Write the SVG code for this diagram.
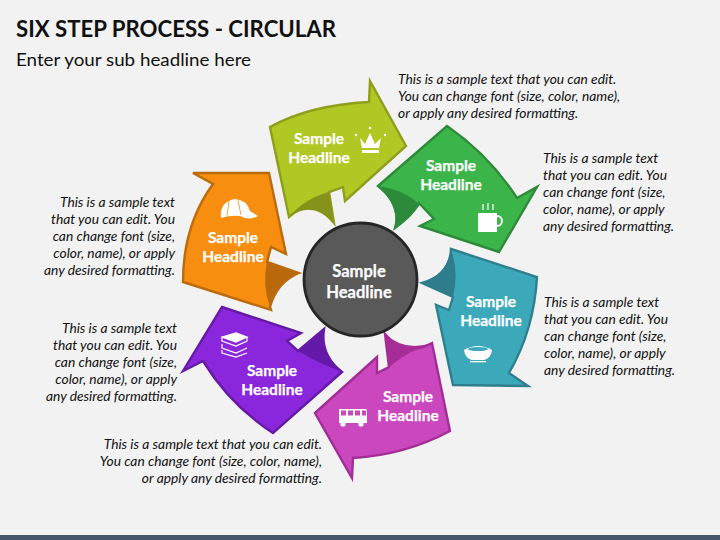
<svg xmlns="http://www.w3.org/2000/svg" width="720" height="540" viewBox="0 0 720 540">
<style>
.hd{font-family:Lato,"Open Sans",sans-serif;font-weight:700;font-size:15.5px;fill:#fff;stroke:#fff;stroke-width:.25px;text-anchor:middle}
.bd{font-family:Lato,"Open Sans",sans-serif;font-style:italic;font-size:13.8px;fill:#111}
.e{text-anchor:end}
.ic{fill:#fff;stroke:none}
.arrow{stroke-width:2.4;stroke-linejoin:miter}
</style>
<rect width="720" height="540" fill="#f2f2f2"/>
<rect y="535" width="720" height="5" fill="#44546a"/>
<text x="16" y="37" font-family="Lato,'Open Sans',sans-serif" font-weight="700" font-size="23.5" fill="#111" textLength="320" lengthAdjust="spacingAndGlyphs">SIX STEP PROCESS - CIRCULAR</text>
<text x="16" y="66" font-family="Lato,'Open Sans',sans-serif" font-size="18" fill="#111" textLength="235" lengthAdjust="spacingAndGlyphs">Enter your sub headline here</text>

<g id="connectors"/>

<g id="node-lime">
<path class="arrow" fill="#b0c823" stroke="#8f9e1c" d="M270 127Q310 105 369 102L370 81L406 146L345 201L343 187L329 192L334 223Q312 196 289 217Z"/>
<path fill="#86931b" d="M289 217Q305 198 329 192L334 223Q312 200 289 217Z"/>
<text class="hd" x="319" y="144">Sample</text><text class="hd" x="319" y="163">Headline</text>
<g class="ic"><path d="M360 138L365 144L370 133L375 144L381 138L379 148L362 148Z"/><rect x="362" y="150" width="17" height="3"/><circle cx="370" cy="128" r="1.300"/><circle cx="356" cy="135" r="1.200"/><circle cx="385" cy="135" r="1.200"/></g>
</g>

<g id="node-green">
<path class="arrow" fill="#3bb54a" stroke="#2d8a3a" d="M378 186L447 126Q489 155 517 198L537 187L499 252L420 226L434 219L419 203Q413 215 395 228Q402 205 378 186Z"/>
<path fill="#2c8a3a" d="M378 186Q405 190 420 205Q407 218 395 228Q399 205 378 186Z"/>
<text class="hd" x="451" y="171">Sample</text><text class="hd" x="451" y="190">Headline</text>
<g class="ic"><rect x="478" y="213" width="19" height="19"/><circle cx="497" cy="221" r="5" style="fill:none;stroke:#fff;stroke-width:2"/><path d="M483 204v6M488 203v7M493 204v6" style="fill:none;stroke:#fff;stroke-width:1.200"/></g>
</g>

<g id="node-teal">
<path class="arrow" fill="#3ba9ba" stroke="#2f7f8e" d="M451 249L537 277Q534 330 509 373L528 386L453 385L436 305L449 310L453 297L422 283Q450 275 451 249Z"/>
<path fill="#2e7c8c" d="M451 249Q459 272 453 297L422 283Q447 275 451 249Z"/>
<text class="hd" x="491" y="307">Sample</text><text class="hd" x="491" y="326">Headline</text>
<g class="ic"><path d="M464 350Q478 342 492 350Q491 358 484 360H472Q465 358 464 350Z"/><ellipse cx="478" cy="349" rx="10" ry="2" style="fill:#3ba9ba"/><rect x="470" y="361" width="16" height="1.300"/></g>
</g>

<g id="node-magenta">
<path class="arrow" fill="#cb47bd" stroke="#a22d96" d="M315 413L377 357L377 373L389 367L385 334Q405 358 432 343L450 431Q405 455 353 458L352 478Z"/>
<path fill="#a62c97" d="M385 334Q405 352 432 343Q410 350 389 367Z"/>
<text class="hd" x="408" y="402">Sample</text><text class="hd" x="408" y="421">Headline</text>
<g class="ic"><path d="M339 409H366Q367 409 367 412V423H339Z"/><g style="fill:#cb47bd"><rect x="341" y="410.500" width="5" height="5"/><rect x="348" y="410.500" width="5" height="5"/><rect x="355" y="410.500" width="5" height="5"/><rect x="362" y="410.500" width="4" height="5"/></g><circle cx="343" cy="424" r="2.600"/><circle cx="361" cy="424" r="2.600"/></g>
</g>

<g id="node-purple">
<path class="arrow" fill="#8a27dc" stroke="#651aa6" d="M222 307L301 333L287 341L298 351L324 329Q320 355 342 372L273 433Q230 405 203 361L183 371Z"/>
<path fill="#6519a8" d="M298 351L324 329Q321 355 342 372Q316 362 298 351Z"/>
<text class="hd" x="272" y="376">Sample</text><text class="hd" x="272" y="395">Headline</text>
<g style="fill:none;stroke:#fff;stroke-width:1.200"><path d="M222 337V341L236 346L247 341V337M222 344V348L236 353L247 348M222 350V353L236 357L247 353"/><path style="fill:#fff" d="M222 337L236 333L247 337L236 342Z"/></g>
</g>

<g id="node-orange">
<path class="arrow" fill="#f78e10" stroke="#b96b0d" d="M193 173L269 173L286 254L271 247L267 262L299 273Q277 282 270 307L271 310L183 282Q183 225 213 184Z"/>
<path fill="#b9690b" d="M267 262L299 273Q277 282 270 307Q262 285 267 262Z"/>
<text class="hd" x="233" y="243">Sample</text><text class="hd" x="233" y="262">Headline</text>
<g class="ic"><path d="M221 218Q219 202 235 199Q247 200 250 211L258 216Q250 221 240 216Q230 215 221 218Z"/><path d="M229 201L227 216M238 200L241 215" style="fill:none;stroke:#f78e10;stroke-width:.8"/></g>
</g>

<g id="node-center">
<circle cx="360.500" cy="279.500" r="56.500" fill="#595959" stroke="#262626" stroke-width="2.800"/>
<text class="hd" x="359" y="277" style="font-size:16.500px">Sample</text><text class="hd" x="359" y="298" style="font-size:16.500px">Headline</text>
</g>

<g id="text-lime"><text class="bd" x="398" y="84">This is a sample text that you can edit.</text><text class="bd" x="398" y="101">You can change font (size, color, name),</text><text class="bd" x="398" y="118">or apply any desired formatting.</text></g>
<g id="text-green"><text class="bd" x="543" y="163">This is a sample text</text><text class="bd" x="543" y="180">that you can edit. You</text><text class="bd" x="543" y="197">can change font (size,</text><text class="bd" x="543" y="214">color, name), or apply</text><text class="bd" x="543" y="231">any desired formatting.</text></g>
<g id="text-teal"><text class="bd" x="544" y="307">This is a sample text</text><text class="bd" x="544" y="324">that you can edit. You</text><text class="bd" x="544" y="341">can change font (size,</text><text class="bd" x="544" y="358">color, name), or apply</text><text class="bd" x="544" y="375">any desired formatting.</text></g>
<g id="text-magenta"><text class="bd e" x="322" y="449">This is a sample text that you can edit.</text><text class="bd e" x="322" y="466">You can change font (size, color, name),</text><text class="bd e" x="322" y="483">or apply any desired formatting.</text></g>
<g id="text-purple"><text class="bd e" x="177" y="333">This is a sample text</text><text class="bd e" x="177" y="350">that you can edit. You</text><text class="bd e" x="177" y="367">can change font (size,</text><text class="bd e" x="177" y="384">color, name), or apply</text><text class="bd e" x="177" y="401">any desired formatting.</text></g>
<g id="text-orange"><text class="bd e" x="175" y="207">This is a sample text</text><text class="bd e" x="175" y="224">that you can edit. You</text><text class="bd e" x="175" y="241">can change font (size,</text><text class="bd e" x="175" y="258">color, name), or apply</text><text class="bd e" x="175" y="275">any desired formatting.</text></g>
</svg>
